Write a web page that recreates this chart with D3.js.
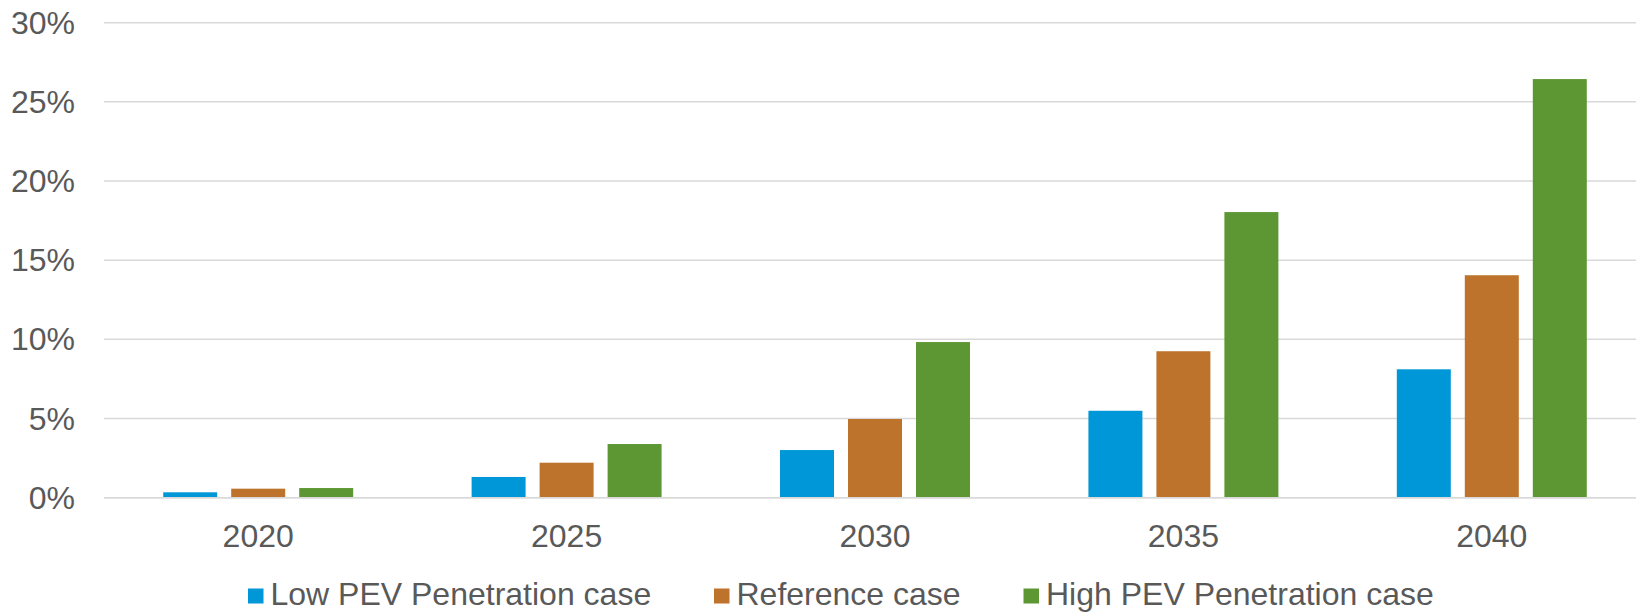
<!DOCTYPE html>
<html>
<head>
<meta charset="utf-8">
<script src="https://cdn.jsdelivr.net/npm/d3@7"></script>
<style>
  html, body { margin: 0; padding: 0; background: #fff; }
  svg { display: block; font-family: "Liberation Sans", Arial, sans-serif; }
</style>
</head>
<body>
<svg id="chart" width="1636" height="612"></svg>
<script>
// PEV share of light-duty vehicle sales, by scenario (%)
const years = ["2020", "2025", "2030", "2035", "2040"];
const seriesNames = ["Low PEV Penetration case", "Reference case", "High PEV Penetration case"];
const seriesColors = ["#0097D8", "#BD732B", "#5D9733"];
const lowPEV = [0.34, 1.31, 3.01, 5.49, 8.11];
const referenceCase = [0.57, 2.21, 4.97, 9.25, 14.05];
const highPEV = [0.61, 3.39, 9.83, 18.04, 26.44];
const yTicks = [0, 5, 10, 15, 20, 25, 30];

const seriesValues = [lowPEV, referenceCase, highPEV];
const rows = years.map((yr, i) => ({
  year: yr,
  values: seriesNames.map((name, s) => ({ name, s, v: seriesValues[s][i] }))
}));

const svg = d3.select("#chart");
const plotLeft = 104, plotRight = 1646, plotTop = 22.7, plotBottom = 497.7;

const gap = 0.384;
const x0 = d3.scaleBand().domain(years).range([plotLeft, plotRight])
  .paddingInner(gap).paddingOuter(gap / 2);
const x1 = d3.scaleBand().domain(d3.range(seriesNames.length)).range([0, x0.bandwidth()])
  .paddingInner(0.206).paddingOuter(0);
const y = d3.scaleLinear().domain([0, 30]).range([plotBottom, plotTop]);

const textColor = "#595959";
const gridColor = "#D9D9D9";
const fontSize = 32;

// horizontal gridlines
svg.append("g").selectAll("line").data(yTicks).join("line")
  .attr("x1", plotLeft).attr("x2", 1636)
  .attr("y1", d => y(d)).attr("y2", d => y(d))
  .attr("stroke", gridColor).attr("stroke-width", 1.5);

// y axis labels
svg.append("g").selectAll("text").data(yTicks).join("text")
  .attr("x", 75).attr("y", d => y(d))
  .attr("text-anchor", "end").attr("dominant-baseline", "central")
  .attr("fill", textColor).attr("font-size", fontSize)
  .text(d => d + "%");

// bars
svg.append("g").selectAll("g").data(rows).join("g")
  .attr("transform", d => `translate(${x0(d.year)},0)`)
  .selectAll("rect").data(d => d.values).join("rect")
  .attr("x", d => x1(d.s))
  .attr("width", x1.bandwidth())
  .attr("y", d => y(d.v))
  .attr("height", d => y(0) - y(d.v))
  .attr("fill", d => seriesColors[d.s]);

// baseline
svg.append("line")
  .attr("x1", plotLeft).attr("x2", 1636)
  .attr("y1", y(0)).attr("y2", y(0))
  .attr("stroke", gridColor).attr("stroke-width", 1.5);

// category labels
svg.append("g").selectAll("text").data(years).join("text")
  .attr("x", d => x0(d) + x0.bandwidth() / 2)
  .attr("y", 546.5)
  .attr("text-anchor", "middle")
  .attr("fill", textColor).attr("font-size", fontSize)
  .text(d => d);

// legend
const legendX = [248, 714, 1023.5];
const legend = svg.append("g").selectAll("g").data(seriesNames).join("g")
  .attr("transform", (d, i) => `translate(${legendX[i]},0)`);
legend.append("rect")
  .attr("x", 0).attr("y", 588.5).attr("width", 15.5).attr("height", 15)
  .attr("fill", (d, i) => seriesColors[i]);
legend.append("text")
  .attr("x", 22.5).attr("y", 605)
  .attr("fill", textColor).attr("font-size", fontSize)
  .text(d => d);
</script>
</body>
</html>
